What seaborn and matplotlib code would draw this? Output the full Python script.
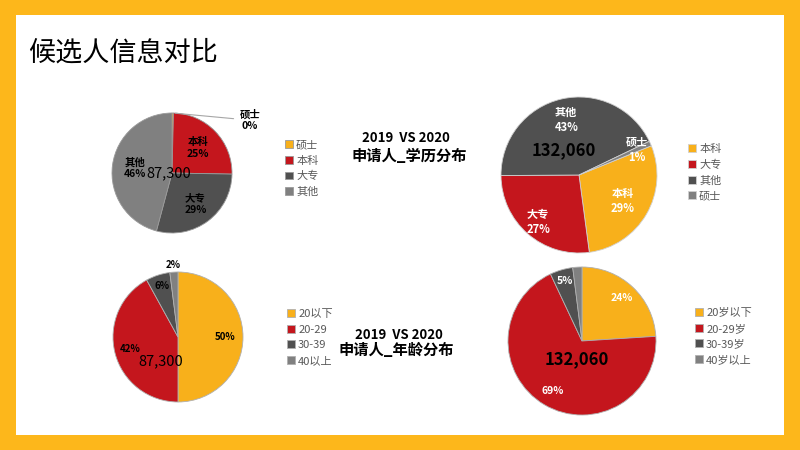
import numpy as np
import matplotlib.pyplot as plt
import seaborn as sns
from matplotlib.patches import Rectangle

sns.set_theme(style="white")
plt.rcParams["font.family"] = ["Noto Sans CJK SC", "DejaVu Sans"]
plt.rcParams["text.color"] = "black"

# 数据
edu_2019_labels = ["硕士", "本科", "大专", "其他"]
edu_2019_values = [0.4, 25, 29, 46]
edu_2020_labels = ["本科", "大专", "其他", "硕士"]
edu_2020_values = [29, 27, 43, 1]
age_2019_labels = ["20以下", "20-29", "30-39", "40以上"]
age_2019_values = [50, 42, 6, 2]
age_2020_labels = ["20岁以下", "20-29岁", "30-39岁", "40岁以上"]
age_2020_values = [24, 69, 5, 2]
total_2019 = 87300
total_2020 = 132060

ORANGE, RED, DARK, GRAY = "#F8B01B", "#C4161D", "#505050", "#808080"
pal = sns.color_palette([ORANGE, RED, DARK, GRAY])

W, H = 800, 450
fig = plt.figure(figsize=(8, 4.5), dpi=100, facecolor="#FDB71B")
fig.add_artist(Rectangle((16 / W, 15 / H), 768 / W, 420 / H, transform=fig.transFigure,
                         facecolor="white", edgecolor="none", zorder=0))

fig.text(28 / W, 1 - 53 / H, "候选人信息对比", fontsize=19.5, ha="left", va="center")


def pie_axes(cx, cy, r):
    return fig.add_axes([(cx - r) / W, 1 - (cy + r) / H, 2 * r / W, 2 * r / H])


def draw_pie(cx, cy, r, values, colors, edge, lw, start=90):
    ax = pie_axes(cx, cy, r)
    wedges, _ = ax.pie(values, colors=colors, startangle=start, counterclock=False,
                       wedgeprops=dict(edgecolor=edge, linewidth=lw))
    ax.set_xlim(-1, 1)
    ax.set_ylim(-1, 1)
    ax.axis("off")
    return ax, wedges


def pct_text(values):
    tot = sum(values)
    return [f"{v / tot * 100:.0f}%" for v in values]


def put_labels(ax, wedges, texts, dists, color, size):
    for w, t, d in zip(wedges, texts, dists):
        if t is None:
            continue
        ang = np.deg2rad((w.theta1 + w.theta2) / 2)
        ax.text(d * np.cos(ang), d * np.sin(ang), t, ha="center", va="center",
                color=color, fontsize=size, fontweight="bold")


def put_legend(ax, wedges, labels, x, y):
    ax.legend(wedges, labels, loc="upper left", bbox_to_anchor=(x / W, 1 - y / H),
              bbox_transform=fig.transFigure, frameon=False, fontsize=8,
              handlelength=0.7, handleheight=0.7, handletextpad=0.3,
              labelspacing=0.5, borderpad=0, borderaxespad=0, labelcolor="#595959")


# 2019 学历
ax, wd = draw_pie(172, 173, 60, edu_2019_values, pal, "#9a9a9a", 0.6)
pcts = pct_text(edu_2019_values)
txt = [None] + [f"{n}\n{p}" for n, p in zip(edu_2019_labels[1:], pcts[1:])]
put_labels(ax, wd, txt, [0, 0.6, 0.65, 0.63], "black", 7.5)
mid = np.deg2rad((wd[0].theta1 + wd[0].theta2) / 2)
ax.annotate(f"{edu_2019_labels[0]}\n{pcts[0]}", xy=(np.cos(mid), np.sin(mid)), xytext=(1.3, 0.88),
            ha="center", va="center", fontsize=7.5, fontweight="bold",
            arrowprops=dict(arrowstyle="-", color="#A6A6A6", lw=0.8))
ax.text(-0.06, 0.0, f"{total_2019:,}", ha="center", va="center", fontsize=10.5,
        fontweight="medium", color="black")
put_legend(ax, wd, edu_2019_labels, 285, 140)

# 2020 学历
ax, wd = draw_pie(579, 175, 78, edu_2020_values, pal, "#d0d0d0", 0.6, start=22)
txt = [f"{n}\n{p}" for n, p in zip(edu_2020_labels, pct_text(edu_2020_values))]
put_labels(ax, wd, txt, [0.65, 0.8, 0.73, 0.81], "white", 8)
ax.text(-0.2, 0.32, f"{total_2020:,}", ha="center", va="center", fontsize=12,
        fontweight="bold", color="black")
put_legend(ax, wd, edu_2020_labels, 688, 144)

# 2019 年龄
ax, wd = draw_pie(178, 337, 65, age_2019_values, pal, "#b0b0b0", 0.6)
put_labels(ax, wd, pct_text(age_2019_values), [0.72, 0.76, 0.82, 1.11], "black", 7)
ax.text(-0.26, -0.37, f"{total_2019:,}", ha="center", va="center", fontsize=10.5,
        fontweight="medium", color="black")
put_legend(ax, wd, age_2019_labels, 287, 309)

# 2020 年龄
ax, wd = draw_pie(582, 341, 74, age_2020_values, pal, "#b0b0b0", 0.6)
txt = pct_text(age_2020_values)
txt[-1] = None
put_labels(ax, wd, txt, [0.79, 0.79, 0.84, 0], "white", 7.5)
ax.text(-0.07, -0.24, f"{total_2020:,}", ha="center", va="center", fontsize=12,
        fontweight="bold", color="black")
put_legend(ax, wd, age_2020_labels, 695, 308)

# 中间标题
fig.text(406 / W, 1 - 138 / H, "2019  VS 2020", ha="center", va="center", fontsize=9.5, fontweight="bold")
fig.text(409 / W, 1 - 156 / H, "申请人_学历分布", ha="center", va="center", fontsize=11, fontweight="bold")
fig.text(399 / W, 1 - 335 / H, "2019  VS 2020", ha="center", va="center", fontsize=9.5, fontweight="bold")
fig.text(396 / W, 1 - 350 / H, "申请人_年龄分布", ha="center", va="center", fontsize=11, fontweight="bold")

fig.savefig("out.png", dpi=100)
